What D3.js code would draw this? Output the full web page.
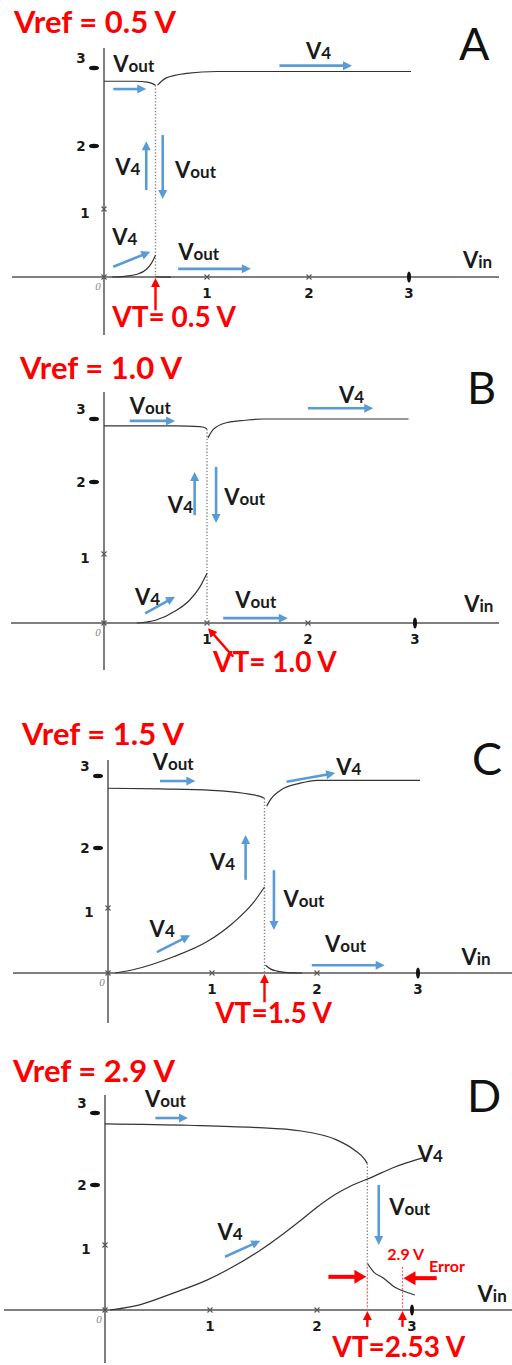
<!DOCTYPE html>
<html>
<head>
<meta charset="utf-8">
<script src="https://cdn.jsdelivr.net/npm/d3@7"></script>
<style>
  body { margin: 0; background: #fff; }
  svg { display: block; }
</style>
</head>
<body>
<script>
// ---------------- data ----------------
const tickValues = [1, 2, 3];
const tickLabels = ["1", "2", "3"];
const panelIds = ["A", "B", "C", "D"];
const vrefLabels = ["Vref = 0.5 V", "Vref = 1.0 V", "Vref = 1.5 V", "Vref = 2.9 V"];
const vtValues = [0.5, 1.0, 1.5, 2.53];
const vtLabels = ["VT= 0.5 V", "VT= 1.0 V", "VT=1.5 V", "VT=2.53 V"];
const vrefD = 2.9;

// Panel A  (Vref = 0.5 V)   [Vin, V]
const aVoutHigh = [[0, 2.83], [0.3, 2.83], [0.42, 2.82], [0.47, 2.8], [0.5, 2.78]];
const aV4High = [[0.52, 2.78], [0.6, 2.87], [0.8, 2.93], [1.1, 2.955], [3.02, 2.955]];
const aV4Low = [[0.08, 0], [0.2, 0.01], [0.32, 0.04], [0.41, 0.11], [0.46, 0.2], [0.5, 0.32]];
const aVoutLow = [[0.5, 0], [0.65, 0]];

// Panel B  (Vref = 1.0 V)
const bVoutHigh = [[0, 2.89], [0.7, 2.89], [0.93, 2.88], [0.98, 2.86], [1.0, 2.84]];
const bV4High = [[1.01, 2.7], [1.06, 2.83], [1.19, 2.94], [1.38, 2.98], [1.55, 3.0], [2.94, 3.0]];
const bV4Low = [[0.32, 0], [0.5, 0.04], [0.7, 0.18], [0.83, 0.33], [0.93, 0.52], [1.0, 0.72]];

// Panel C  (Vref = 1.5 V)
const cVoutHigh = [[0, 2.83], [0.5, 2.82], [1.0, 2.8], [1.3, 2.76], [1.45, 2.72], [1.5, 2.69]];
const cV4High = [[1.52, 2.58], [1.56, 2.68], [1.65, 2.8], [1.84, 2.9], [2.0, 2.94], [3.02, 2.94]];
const cV4Low = [[0.07, 0], [0.24, 0.05], [0.63, 0.25], [0.95, 0.48], [1.2, 0.77], [1.39, 1.08], [1.5, 1.35]];
const cVoutLow = [[1.51, 0.12], [1.56, 0.06], [1.62, 0.03], [1.72, 0.005], [1.86, 0]];

// Panel D  (Vref = 2.9 V)
const dVoutHigh = [[0, 2.85], [0.8, 2.83], [1.4, 2.8], [1.85, 2.75], [2.2, 2.63], [2.4, 2.48], [2.5, 2.36], [2.53, 2.3]];
const dVoutLow = [[2.53, 0.72], [2.6, 0.58], [2.69, 0.5], [2.82, 0.35], [2.95, 0.27], [3.03, 0.23]];
const dV4 = [[0.05, 0], [0.33, 0.08], [0.65, 0.26], [0.97, 0.46], [1.21, 0.66], [1.47, 0.92], [1.68, 1.18],
             [1.84, 1.4], [2.0, 1.63], [2.2, 1.85], [2.35, 1.98], [2.58, 2.11], [2.8, 2.24], [3.12, 2.38]];

// ---------------- layout ----------------
const W = 512, H = 1365;
const BLUE = "#5b9bd5", RED = "#ff0000", INK = "#1a1a1a";
const FONT = "Lato, 'Open Sans', sans-serif";

const svg = d3.select("body").append("svg").attr("width", W).attr("height", H);

const panels = [
  { xr: [104, 207, 309, 409], yr: [277, 209, 146, 68], yAx: [48, 335], xAx: [12, 499], title: [14, 33], letter: [459, 60],
    curves: [aVoutHigh, aV4High, aV4Low, aVoutLow], drop: [aVoutHigh, null],
    arrows: [
      [[0.09, 2.73], [0.41, 2.73]], [[0.41, 1.30], [0.41, 2.06]], [[0.57, 2.14], [0.57, 1.16]],
      [[0.09, 0.15], [0.45, 0.37]], [[0.72, 0.12], [1.43, 0.12]], [[1.71, 3.03], [2.43, 3.03]]],
    labels: [["Vout", 0.09, 2.95], ["V4", 0.11, 1.54], ["Vout", 0.69, 1.49], ["V4", 0.08, 0.47],
             ["Vout", 0.72, 0.25], ["V4", 1.97, 3.12], ["Vin", 3.54, 0.13]],
    vtArrow: [[0.5, -0.49], [0.5, 0]], vtText: [0.08, -0.74] },
  { xr: [104, 207, 308, 415], yr: [623, 554, 482, 419], yAx: [392, 670], xAx: [11, 499], title: [20, 379], letter: [467, 404],
    curves: [bVoutHigh, bV4High, bV4Low], drop: [bVoutHigh, null],
    arrows: [
      [[0.25, 2.97], [0.69, 2.97]], [[0.88, 1.54], [0.88, 2.16]], [[1.09, 2.24], [1.09, 1.43]],
      [[0.40, 0.14], [0.69, 0.38]], [[1.16, 0.07], [1.80, 0.07]], [[2.0, 3.17], [2.61, 3.17]]],
    labels: [["Vout", 0.25, 3.08], ["V4", 0.62, 1.57], ["Vout", 1.17, 1.68], ["V4", 0.30, 0.26],
             ["Vout", 1.28, 0.22], ["V4", 2.29, 3.25], ["Vin", 3.46, 0.16]],
    vtArrow: [[1.26, -0.49], [1.01, -0.06]], vtText: [1.06, -0.71] },
  { xr: [108, 212, 317, 418], yr: [973, 908, 848, 776], yAx: [760, 1023], xAx: [13, 512], title: [22, 745], letter: [472, 775],
    curves: [cVoutHigh, cV4High, cV4Low, cVoutLow], drop: [cVoutHigh, null],
    arrows: [
      [[0.5, 2.93], [0.84, 2.93]], [[1.32, 1.47], [1.32, 2.18]], [[1.59, 1.63], [1.59, 0.66]],
      [[0.47, 0.32], [0.79, 0.58]], [[1.95, 0.12], [2.67, 0.12]], [[1.71, 2.92], [2.18, 3.04]]],
    labels: [["Vout", 0.43, 3.08], ["V4", 0.98, 1.63], ["Vout", 1.68, 1.02], ["V4", 0.40, 0.55],
             ["Vout", 2.08, 0.32], ["V4", 2.19, 3.01], ["Vin", 3.43, 0.12]],
    vtArrow: [[1.5, -0.45], [1.5, 0]], vtText: [1.03, -0.77] },
  { xr: [105, 210, 317, 412], yr: [1310, 1245, 1185, 1113], yAx: [1095, 1363], xAx: [4, 512], title: [13, 1082], letter: [467, 1112],
    curves: [dVoutHigh, dVoutLow, dV4], drop: [dVoutHigh, dVoutLow],
    arrows: [
      [[0.48, 2.93], [0.79, 2.93]], [[1.14, 0.82], [1.47, 1.07]], [[2.65, 2.0], [2.65, 1.0]]],
    labels: [["Vout", 0.38, 3.08], ["V4", 1.07, 1.08], ["Vout", 2.76, 1.5], ["V4", 3.06, 2.32], ["Vin", 3.69, 0.12]],
    vtArrow: [[2.53, -0.26], [2.53, 0]], vtText: [2.16, -0.72] }
];

// arrow: straight shaft with a filled triangular head at the tip
function arrow(g, x1, y1, x2, y2, color, sw, hl, hw) {
  const dx = x2 - x1, dy = y2 - y1, len = Math.hypot(dx, dy);
  const ux = dx / len, uy = dy / len;
  const bx = x2 - ux * hl, by = y2 - uy * hl;
  g.append("line").attr("x1", x1).attr("y1", y1).attr("x2", bx + ux).attr("y2", by + uy)
    .attr("stroke", color).attr("stroke-width", sw);
  g.append("path")
    .attr("d", `M${x2},${y2}L${bx - uy * hw},${by + ux * hw}L${bx + uy * hw},${by - ux * hw}Z`)
    .attr("fill", color);
}

function xMark(g, x, y, s) {
  g.append("path").attr("d", `M${x - s},${y - s}L${x + s},${y + s}M${x - s},${y + s}L${x + s},${y - s}`)
    .attr("stroke", "#555").attr("stroke-width", 1.1);
}

function symLabel(g, txt, x, y) {
  const t = g.append("text").attr("x", x).attr("y", y).attr("fill", INK)
    .attr("font-family", FONT).attr("font-weight", 700);
  t.append("tspan").attr("font-size", 22).text(txt[0]);
  t.append("tspan").attr("font-size", 17).text(txt.slice(1));
}

panels.forEach((p, i) => {
  const g = svg.append("g");
  const x = d3.scaleLinear().domain([0, 1, 2, 3]).range(p.xr);
  const y = d3.scaleLinear().domain([0, 1, 2, 3]).range(p.yr);
  const x0 = x(0), y0 = y(0);

  // axes
  g.append("line").attr("x1", p.xAx[0]).attr("x2", p.xAx[1]).attr("y1", y0).attr("y2", y0)
    .attr("stroke", "#7f7f7f").attr("stroke-width", 2);
  g.append("line").attr("x1", x0).attr("x2", x0).attr("y1", p.yAx[0]).attr("y2", p.yAx[1])
    .attr("stroke", "#7f7f7f").attr("stroke-width", 2);

  // y ticks: 1 as a cross on the axis, 2 and 3 as bold dashes
  tickValues.forEach((v, k) => {
    const ty = y(v);
    if (v === 1) {
      xMark(g, x0, ty, 2.5);
    } else {
      g.append("ellipse").attr("cx", x0 - 10).attr("cy", ty).attr("rx", 5).attr("ry", 2.2).attr("fill", "#111");
    }
    const ly = v === 3 ? ty - 5 : v === 2 ? ty + 5 : ty + 9;
    g.append("text").attr("x", x0 - (v === 1 ? 19 : 23)).attr("y", ly).attr("text-anchor", "middle")
      .attr("font-family", "DejaVu Sans, sans-serif").attr("font-weight", 700).attr("font-size", 13.5)
      .attr("fill", INK).text(tickLabels[k]);
  });
  // x ticks: 1, 2 as crosses, 3 as a bold mark
  tickValues.forEach((v, k) => {
    const tx = x(v);
    if (v === 3) {
      g.append("ellipse").attr("cx", tx).attr("cy", y0).attr("rx", 2).attr("ry", 5.5).attr("fill", "#111");
    } else {
      xMark(g, tx, y0, 2.5);
    }
    g.append("text").attr("x", tx).attr("y", y0 + 21).attr("text-anchor", "middle")
      .attr("font-family", "DejaVu Sans, sans-serif").attr("font-weight", 700).attr("font-size", 13.5)
      .attr("fill", INK).text(tickLabels[k]);
  });
  xMark(g, x0, y0, 2.5);
  g.append("text").attr("x", x0 - 6).attr("y", y0 + 13).attr("text-anchor", "middle")
    .attr("font-family", "Liberation Serif, serif").attr("font-style", "italic").attr("font-size", 11)
    .attr("fill", "#888").text("0");

  // switching threshold drop (dotted)
  const hi = p.drop[0], lo = p.drop[1];
  const top = hi[hi.length - 1];
  const bottom = lo ? lo[0][1] : 0;
  g.append("line").attr("x1", x(top[0])).attr("x2", x(top[0])).attr("y1", y(top[1])).attr("y2", y(bottom))
    .attr("stroke", "#8a8a8a").attr("stroke-width", 1.4).attr("stroke-dasharray", "1.4 1.8");

  // transfer curves
  const line = d3.line().x(d => x(d[0])).y(d => y(d[1])).curve(d3.curveMonotoneX);
  p.curves.forEach(c => {
    g.append("path").attr("d", line(c)).attr("fill", "none").attr("stroke", "#333").attr("stroke-width", 1.2);
  });

  // blue direction arrows
  p.arrows.forEach(a => arrow(g, x(a[0][0]), y(a[0][1]), x(a[1][0]), y(a[1][1]), BLUE, 2.6, 9, 4.5));
  p.labels.forEach(l => symLabel(g, l[0], x(l[1]), y(l[2])));

  // VT marker
  arrow(g, x(p.vtArrow[0][0]), y(p.vtArrow[0][1]), x(p.vtArrow[1][0]), y(p.vtArrow[1][1]) + 1, RED, 2.4, 9, 4.5);
  g.append("text").attr("x", x(p.vtText[0])).attr("y", y(p.vtText[1]))
    .attr("font-family", FONT).attr("font-weight", 700).attr("font-size", 28).attr("fill", RED).text(vtLabels[i]);

  // headers
  g.append("text").attr("x", p.title[0]).attr("y", p.title[1])
    .attr("font-family", FONT).attr("font-weight", 700).attr("font-size", 31).attr("fill", RED).text(vrefLabels[i]);
  g.append("text").attr("x", p.letter[0]).attr("y", p.letter[1])
    .attr("font-family", FONT).attr("font-weight", 400).attr("font-size", 45).attr("fill", "#111").text(panelIds[i]);

  // error between the reached threshold and Vref (panel D)
  if (i === 3) {
    const vt = vtValues[3];
    [[vt, 0.72], [vrefD, 0.66]].forEach(d => {
      g.append("line").attr("x1", x(d[0])).attr("x2", x(d[0])).attr("y1", y(d[1])).attr("y2", y0)
        .attr("stroke", "#ff6060").attr("stroke-width", 1.2).attr("stroke-dasharray", "2 1.5");
    });
    arrow(g, x(2.12), y(0.51), x(vt) - 1, y(0.51), RED, 4, 12, 7);
    arrow(g, x(3.26), y(0.49), x(vrefD) + 1, y(0.49), RED, 4, 12, 7);
    arrow(g, x(vrefD), y(-0.26), x(vrefD), y0 + 1, RED, 2.4, 9, 4.5);
    g.append("text").attr("x", x(2.74)).attr("y", y(0.77)).attr("font-family", FONT).attr("font-weight", 700)
      .attr("font-size", 16).attr("fill", RED).text(vrefD + " V");
    g.append("text").attr("x", x(3.18)).attr("y", y(0.58)).attr("font-family", FONT).attr("font-weight", 700)
      .attr("font-size", 16).attr("fill", RED).text("Error");
  }
});
</script>
</body>
</html>
